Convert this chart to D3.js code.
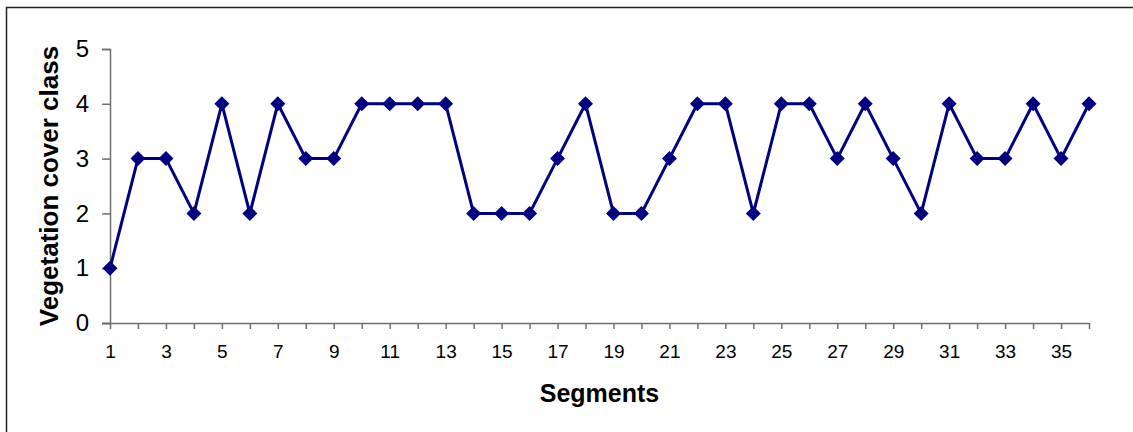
<!DOCTYPE html>
<html>
<head>
<meta charset="utf-8">
<script src="https://cdn.jsdelivr.net/npm/d3@7"></script>
<style>
  html, body { margin: 0; padding: 0; background: #fff; }
  svg { display: block; font-family: Arial, "Liberation Sans", sans-serif; }
</style>
</head>
<body>
<svg id="chart" width="1133" height="432"></svg>
<script>
// Vegetation cover class recorded for each segment
const segments = d3.range(1, 37);
const coverClass = [1, 3, 3, 2, 4, 2, 4, 3, 3, 4, 4, 4, 4, 2, 2, 2, 3, 4,
                    2, 2, 3, 4, 4, 2, 4, 4, 3, 4, 3, 2, 4, 3, 3, 4, 3, 4];
const yTicks = [0, 1, 2, 3, 4, 5];

const svg = d3.select("#chart");

// outer chart frame
svg.append("rect")
  .attr("x", 6.5).attr("y", 7.5)
  .attr("width", 1300).attr("height", 600)
  .attr("fill", "none").attr("stroke", "#222").attr("stroke-width", 1.5);

const x = d3.scaleLinear().domain([1, 36]).range([110, 1089]);
const y = d3.scaleLinear().domain([0, 5]).range([323, 49]);

const axisColor = "#6e6e6e";

// y axis
const yAxis = svg.append("g")
  .attr("transform", `translate(${x(1)},0)`)
  .call(d3.axisLeft(y).tickValues(yTicks).tickSize(8).tickPadding(13).tickFormat(d3.format("d")));
yAxis.select(".domain").attr("stroke", axisColor).attr("stroke-width", 1.5);
yAxis.selectAll(".tick line").attr("stroke", axisColor).attr("stroke-width", 1.5);
yAxis.selectAll("text").attr("font-size", 24).attr("fill", "#000")
  .attr("font-family", "Arial, 'Liberation Sans', sans-serif");

// x axis: a tick at every segment, labels on odd segments
const xAxis = svg.append("g")
  .attr("transform", `translate(0,${y(0)})`)
  .call(d3.axisBottom(x).tickValues(segments).tickSize(6).tickSizeOuter(0).tickPadding(16)
    .tickFormat(d => (d % 2 === 1 ? d : "")));
xAxis.select(".domain").attr("stroke", axisColor).attr("stroke-width", 1.5)
  .attr("d", `M${x(1) - 8},0.5H${x(36)}`);
xAxis.selectAll(".tick line").attr("stroke", axisColor).attr("stroke-width", 1.5);
xAxis.selectAll("text").attr("font-size", 19).attr("fill", "#000")
  .attr("font-family", "Arial, 'Liberation Sans', sans-serif");

// series line
const line = d3.line().x((d, i) => x(segments[i])).y(d => y(d));
svg.append("path")
  .datum(coverClass)
  .attr("d", line)
  .attr("fill", "none")
  .attr("stroke", "#000080")
  .attr("stroke-width", 3)
  .attr("stroke-linejoin", "round");

// diamond markers
const diamond = d3.symbol().type(d3.symbolSquare).size(112);
svg.append("g").selectAll("path")
  .data(coverClass)
  .join("path")
  .attr("d", diamond)
  .attr("transform", (d, i) => `translate(${x(segments[i])},${y(d)}) rotate(45)`)
  .attr("fill", "#000080");

// axis titles
svg.append("text")
  .attr("transform", `translate(58,${(y(0) + y(5)) / 2}) rotate(-90)`)
  .attr("text-anchor", "middle")
  .attr("font-size", 26).attr("font-weight", "bold")
  .text("Vegetation cover class");

svg.append("text")
  .attr("x", (x(1) + x(36)) / 2).attr("y", 402)
  .attr("text-anchor", "middle")
  .attr("font-size", 25).attr("font-weight", "bold")
  .text("Segments");
</script>
</body>
</html>
